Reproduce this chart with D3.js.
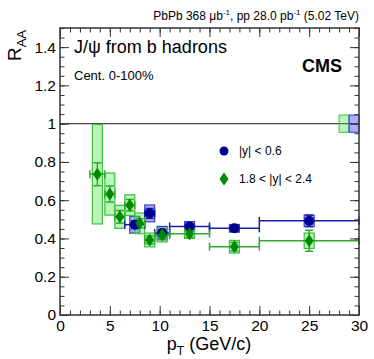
<!DOCTYPE html>
<html>
<head>
<meta charset="utf-8">
<script src="https://cdn.jsdelivr.net/npm/d3@7"></script>
<style>
  body { margin: 0; background: #fff; }
  svg { font-family: "Liberation Sans", Arial, sans-serif; }
</style>
</head>
<body>
<svg id="chart" width="374" height="359"></svg>
<script>
// |y| < 0.6
const midPt   = [7.5, 9.0, 10.25, 13, 17.5, 25];
const midLo   = [6.5, 8.5, 9.5, 11, 15, 20];
const midHi   = [8.5, 9.5, 11, 15, 20, 30];
const midRaa  = [0.472, 0.531, 0.428, 0.463, 0.453, 0.492];
const midStat = [0.02, 0.026, 0.018, 0.016, 0.016, 0.03];
const midSyst = [0.044, 0.044, 0.035, 0.025, 0.02, 0.03];

// 1.8 < |y| < 2.4
const fwdPt   = [3.75, 5, 6, 7, 8, 9, 10.25, 13, 17.5, 25];
const fwdLo   = [3, 4.5, 5.5, 6.5, 7.5, 8.5, 9.5, 11, 15, 20];
const fwdHi   = [4.5, 5.5, 6.5, 7.5, 8.5, 9.5, 11, 15, 20, 30];
const fwdRaa  = [0.736, 0.632, 0.513, 0.574, 0.479, 0.392, 0.418, 0.425, 0.357, 0.388];
const fwdStat = [0.06, 0.042, 0.033, 0.03, 0.024, 0.021, 0.02, 0.018, 0.022, 0.055];
const fwdSyst = [0.26, 0.11, 0.06, 0.054, 0.054, 0.036, 0.036, 0.025, 0.033, 0.04];

// global uncertainties drawn at RAA = 1
const globalUnc = { fwd: 0.045, mid: 0.045 };

const xTicks = [0, 5, 10, 15, 20, 25, 30];
const yTicks = [0, 0.2, 0.4, 0.6, 0.8, 1, 1.2, 1.4];

const dims = { left: 60, right: 359, top: 28, bottom: 315 };

const svg = d3.select("#chart");

const x = d3.scaleLinear().domain([0, 30]).range([dims.left, dims.right]);
const y = d3.scaleLinear().domain([0, 1.5]).range([dims.bottom, dims.top]);

const styles = {
  mid: { line: "#1c1ca8", marker: "#000090", fill: "rgba(70,70,255,0.45)", edge: "#3a3acc" },
  fwd: { line: "#2fa82f", marker: "#008a00", fill: "rgba(80,230,80,0.4)", edge: "#3cbf3c" }
};

function toRows(pt, lo, hi, raa, stat, syst) {
  return pt.map((p, i) => ({ pt: p, lo: lo[i], hi: hi[i], raa: raa[i], stat: stat[i], syst: syst[i] }));
}
const series = {
  fwd: toRows(fwdPt, fwdLo, fwdHi, fwdRaa, fwdStat, fwdSyst),
  mid: toRows(midPt, midLo, midHi, midRaa, midStat, midSyst)
};

// reference line at 1
svg.append("line")
  .attr("x1", x(0)).attr("x2", x(30))
  .attr("y1", y(1)).attr("y2", y(1))
  .attr("stroke", "#444").attr("stroke-width", 1.2);

// global uncertainty boxes
[["fwd", 28, 29], ["mid", 29, 30]].forEach(([k, a, b]) => {
  svg.append("rect")
    .attr("x", x(a)).attr("width", x(b) - x(a))
    .attr("y", y(1 + globalUnc[k])).attr("height", y(1 - globalUnc[k]) - y(1 + globalUnc[k]))
    .attr("fill", styles[k].fill).attr("stroke", styles[k].edge).attr("stroke-width", 1);
});

// systematic boxes
["mid", "fwd"].forEach(k => {
  svg.append("g").selectAll("rect")
    .data(series[k]).join("rect")
    .attr("x", d => x(d.pt - 0.5))
    .attr("width", d => x(d.pt + 0.5) - x(d.pt - 0.5))
    .attr("y", d => y(d.raa + d.syst))
    .attr("height", d => y(d.raa - d.syst) - y(d.raa + d.syst))
    .attr("fill", styles[k].fill)
    .attr("stroke", styles[k].edge)
    .attr("stroke-width", 1.2);
});

// error bars and markers
["mid", "fwd"].forEach(k => {
  const st = styles[k];
  const g = svg.append("g").attr("stroke", st.line).attr("stroke-width", 1.5);
  series[k].forEach(d => {
    // horizontal bin width
    g.append("line").attr("x1", x(d.lo)).attr("x2", x(d.hi)).attr("y1", y(d.raa)).attr("y2", y(d.raa));
    [d.lo, d.hi].forEach(v => g.append("line")
      .attr("x1", x(v)).attr("x2", x(v))
      .attr("y1", y(d.raa) - 4).attr("y2", y(d.raa) + 4));
    // statistical
    g.append("line").attr("x1", x(d.pt)).attr("x2", x(d.pt))
      .attr("y1", y(d.raa + d.stat)).attr("y2", y(d.raa - d.stat));
    [d.raa + d.stat, d.raa - d.stat].forEach(v => g.append("line")
      .attr("x1", x(d.pt) - 4).attr("x2", x(d.pt) + 4)
      .attr("y1", y(v)).attr("y2", y(v)));
  });
});

svg.append("g").selectAll("circle")
  .data(series.mid).join("circle")
  .attr("cx", d => x(d.pt)).attr("cy", d => y(d.raa))
  .attr("r", 5).attr("fill", styles.mid.marker);

const diamond = "M0,-6.5L4.5,0L0,6.5L-4.5,0Z";
svg.append("g").selectAll("path")
  .data(series.fwd).join("path")
  .attr("transform", d => `translate(${x(d.pt)},${y(d.raa)})`)
  .attr("d", diamond).attr("fill", styles.fwd.marker);

// axes with inward ticks on all sides
function axis(gen, tr) {
  const g = svg.append("g").attr("transform", tr).call(gen);
  g.select(".domain").remove();
  g.selectAll("line").attr("stroke", "#333");
  g.selectAll("text").attr("fill", "#000").style("font-size", "15.5px")
    .style("font-family", "'Liberation Sans', Arial, sans-serif");
  return g;
}
const xMinor = d3.range(0, 31, 1);
const yMinor = d3.range(0, 1.501, 0.05);

axis(d3.axisBottom(x).tickValues(xTicks).tickSize(-9).tickPadding(5).tickFormat(d3.format("d")), `translate(0,${dims.bottom})`);
axis(d3.axisBottom(x).tickValues(xMinor).tickSize(-4.5).tickFormat(""), `translate(0,${dims.bottom})`);
axis(d3.axisTop(x).tickValues(xTicks).tickSize(-9).tickFormat(""), `translate(0,${dims.top})`);
axis(d3.axisTop(x).tickValues(xMinor).tickSize(-4.5).tickFormat(""), `translate(0,${dims.top})`);
axis(d3.axisLeft(y).tickValues(yTicks).tickSize(-9).tickPadding(4).tickFormat(d => d3.format("~g")(d)), `translate(${dims.left},0)`);
axis(d3.axisLeft(y).tickValues(yMinor).tickSize(-4.5).tickFormat(""), `translate(${dims.left},0)`);
axis(d3.axisRight(y).tickValues(yTicks).tickSize(-9).tickFormat(""), `translate(${dims.right},0)`);
axis(d3.axisRight(y).tickValues(yMinor).tickSize(-4.5).tickFormat(""), `translate(${dims.right},0)`);

svg.append("rect")
  .attr("x", dims.left).attr("y", dims.top)
  .attr("width", dims.right - dims.left).attr("height", dims.bottom - dims.top)
  .attr("fill", "none").attr("stroke", "#333").attr("stroke-width", 1.5);

// axis titles
const xt = svg.append("text").attr("x", 209).attr("y", 350)
  .attr("text-anchor", "middle").style("font-size", "18px");
xt.append("tspan").text("p");
xt.append("tspan").attr("dy", 5).style("font-size", "12px").text("T");
xt.append("tspan").attr("dy", -5).text(" (GeV/c)");

const yt = svg.append("text").attr("transform", "translate(21,30) rotate(-90)")
  .attr("text-anchor", "end").style("font-size", "19px");
yt.append("tspan").text("R");
yt.append("tspan").attr("dy", 5).style("font-size", "13px").text("AA");

// header
const hdr = svg.append("text").attr("x", 359).attr("y", 20)
  .attr("text-anchor", "end").style("font-size", "12px");
hdr.append("tspan").text("PbPb 368 μb");
hdr.append("tspan").attr("dy", -5).style("font-size", "8px").text("-1");
hdr.append("tspan").attr("dy", 5).text(", pp 28.0 pb");
hdr.append("tspan").attr("dy", -5).style("font-size", "8px").text("-1");
hdr.append("tspan").attr("dy", 5).text(" (5.02 TeV)");

svg.append("text").attr("x", 74).attr("y", 53).style("font-size", "18px").text("J/ψ from b hadrons");
svg.append("text").attr("x", 74).attr("y", 80).style("font-size", "13px").text("Cent. 0-100%");
svg.append("text").attr("x", 342).attr("y", 72).attr("text-anchor", "end")
  .style("font-size", "18px").style("font-weight", "bold").text("CMS");

// legend
const legend = svg.append("g");
legend.append("circle").attr("cx", 224).attr("cy", 151).attr("r", 4.5).attr("fill", styles.mid.marker);
legend.append("text").attr("x", 239).attr("y", 155).style("font-size", "12px").text("|y| < 0.6");
legend.append("path").attr("transform", "translate(224,179)").attr("d", diamond).attr("fill", styles.fwd.marker);
legend.append("text").attr("x", 239).attr("y", 183).style("font-size", "12px").text("1.8 < |y| < 2.4");
</script>
</body>
</html>
